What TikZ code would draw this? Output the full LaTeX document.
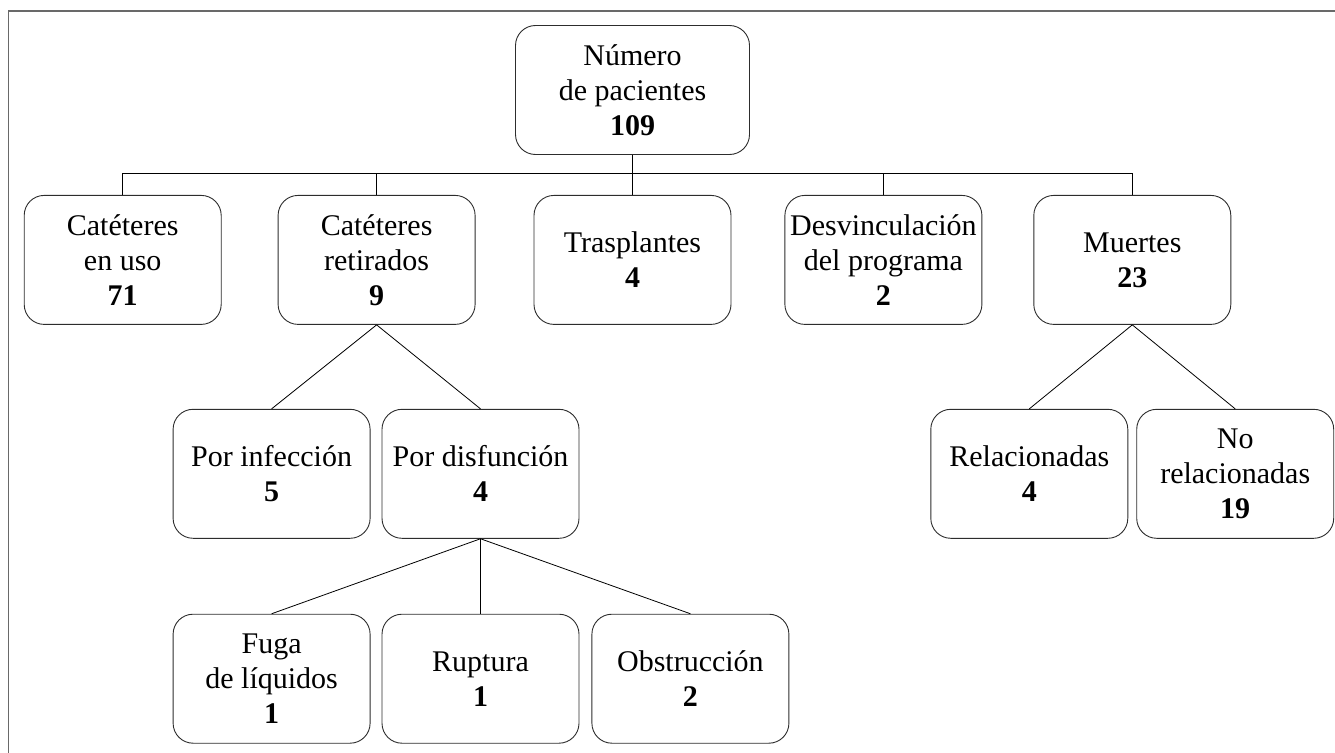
\documentclass[tikz,border=0pt]{standalone}
\usepackage{fontspec}
\setmainfont{Liberation Serif}
\usepackage{tikz}
\usetikzlibrary{positioning}
\definecolor{framegray}{RGB}{105,105,105}
\definecolor{boxgray}{RGB}{45,45,45}

\begin{document}
\begin{tikzpicture}[
    x=1pt, y=1pt,
    node distance=40pt,
    box/.style={rectangle, draw=boxgray, fill=white, rounded corners=20pt, minimum width=197pt, minimum height=129pt, inner sep=0pt, align=center, line width=0.9pt, font=\fontsize{30}{35}\selectfont},
    link/.style={line width=0.8pt, black}
  ]
  \useasboundingbox (0,0) rectangle (1335,-752);
  \draw[framegray, line width=1.8pt] (8.5,-760) -- (8.5,-10.7) -- (1340,-10.7);

  \node[box, minimum width=234pt] (total) at (632.5,-90) {Número\\de pacientes\\\textbf{109}};
  \coordinate[below=18pt of total] (bus);

  \node[box, below=40pt of total] (trasp) {Trasplantes\\\textbf{4}};
  \node[box, left=58pt of trasp] (retir) {Catéteres\\retirados\\\textbf{9}};
  \node[box, left=56pt of retir] (enuso) {Catéteres\\en uso\\\textbf{71}};
  \node[box, right=53pt of trasp] (desv) {Desvinculación\\del programa\\\textbf{2}};
  \node[box, right=51pt of desv] (muert) {Muertes\\\textbf{23}};

  \node[box, below=84pt of retir, xshift=-105pt] (infec) {Por infección\\\textbf{5}};
  \node[box, right=11pt of infec] (disfun) {Por disfunción\\\textbf{4}};
  \node[box, below=84pt of muert, xshift=-103pt] (relac) {Relacionadas\\\textbf{4}};
  \node[box, right=8pt of relac] (norel) {No\\relacionadas\\\textbf{19}};

  \node[box, below=75pt of disfun] (ruptura) {Ruptura\\\textbf{1}};
  \node[box, left=11pt of ruptura] (fuga) {Fuga\\de líquidos\\\textbf{1}};
  \node[box, right=12pt of ruptura] (obstr) {Obstrucción\\\textbf{2}};

  \draw[link] (total.south) -- (bus);
  \draw[link] (enuso.north) |- (bus) -| (muert.north);
  \foreach \n in {retir,trasp,desv}
    \draw[link] (\n.north) -- (\n.north |- bus);

  \draw[link] (retir.south) -- (infec.north);
  \draw[link] (retir.south) -- (disfun.north);
  \draw[link] (muert.south) -- (relac.north);
  \draw[link] (muert.south) -- (norel.north);

  \foreach \n in {fuga,ruptura,obstr}
    \draw[link] (disfun.south) -- (\n.north);
\end{tikzpicture}
\end{document}
